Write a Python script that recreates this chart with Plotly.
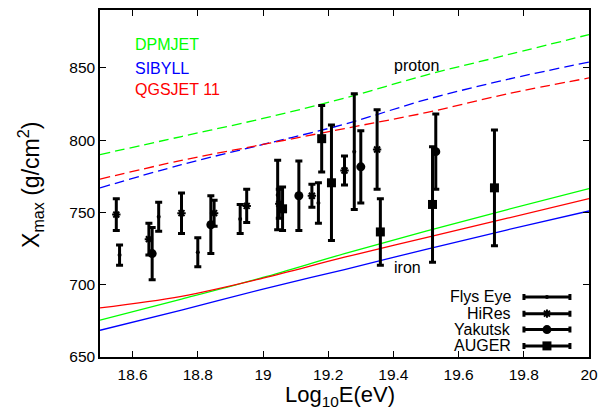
import plotly.graph_objects as go

# ---------------- data ----------------
E_model = [18.5, 18.75, 19.0, 19.25, 19.5, 19.75, 20.0]
dpmjet_proton = [790, 802.5, 815, 829, 845, 859, 873]
sibyll_proton = [767, 783, 797, 811, 828, 842, 854]
qgsjet_proton = [773, 786, 797, 808, 819, 832, 843]
dpmjet_iron = [675.5, 690, 705, 721.5, 737, 752, 766.5]
sibyll_iron = [668.5, 682.5, 697, 710.5, 724.5, 738, 751]
qgsjet_iron = [684, 692, 704.5, 719, 732.5, 746, 759.5]

flys_E = [18.56, 18.68, 18.80, 18.93, 19.045, 19.17, 19.28]
flys_X = [720.5, 747, 722.5, 745.5, 762, 756.5, 792]
flys_err = [7, 10, 10, 10, 24, 14, 40]

hires_E = [18.55, 18.65, 18.75, 18.85, 18.95, 19.05, 19.15, 19.25, 19.35]
hires_X = [748.5, 731.5, 749.5, 749.5, 754.5, 756, 761.5, 779, 793.5]
hires_err = [11, 11, 14, 9, 11.5, 10, 8, 10, 27.5]

yak_E = [18.66, 18.84, 19.11, 19.30, 19.53]
yak_X = [721.5, 741.5, 761.5, 781.5, 792]
yak_err = [18, 20, 24, 25, 26]

auger_E = [19.06, 19.18, 19.21, 19.36, 19.52, 19.71]
auger_X = [752.5, 801, 770.5, 736.5, 755.5, 767]
auger_err = [15, 23, 40, 23, 40, 40]

x_ticks = [18.6, 18.8, 19.0, 19.2, 19.4, 19.6, 19.8, 20.0]
x_tick_text = ["18.6", "18.8", "19", "19.2", "19.4", "19.6", "19.8", "20"]
y_ticks = [650, 700, 750, 800, 850]

GREEN, BLUE, RED = "#00ff00", "#0000ff", "#ff0000"
FONT = "Liberation Sans, Arial, sans-serif"

fig = go.Figure()

# model curves
for ys, col in [(dpmjet_proton, GREEN), (sibyll_proton, BLUE), (qgsjet_proton, RED)]:
    fig.add_trace(go.Scatter(x=E_model, y=ys, mode="lines", line=dict(color=col, width=1.3, dash="10px,5px"),
                             line_shape="spline", hoverinfo="skip", showlegend=False))
for ys, col in [(dpmjet_iron, GREEN), (sibyll_iron, BLUE), (qgsjet_iron, RED)]:
    fig.add_trace(go.Scatter(x=E_model, y=ys, mode="lines", line=dict(color=col, width=1.3),
                             line_shape="spline", hoverinfo="skip", showlegend=False))

# experiments
exps = [
    ("Flys Eye", flys_E, flys_X, flys_err, dict(symbol="circle", size=4, color="black")),
    ("HiRes", hires_E, hires_X, hires_err, dict(symbol="asterisk-open", size=7, color="black", line=dict(color="black", width=2))),
    ("Yakutsk", yak_E, yak_X, yak_err, dict(symbol="circle", size=9, color="black")),
    ("AUGER", auger_E, auger_X, auger_err, dict(symbol="square", size=9, color="black")),
]
for name, ex, ey, ee, mk in exps:
    fig.add_trace(go.Scatter(x=ex, y=ey, mode="markers", marker=mk, name=name, showlegend=False,
                             error_y=dict(type="data", array=ee, visible=True, color="black", thickness=3, width=3.5)))

# legend samples (on an overlay axis in fractional units)
leg_y = [0.173, 0.125, 0.079, 0.032]
for (name, ex, ey, ee, mk), ly in zip(exps, leg_y):
    fig.add_trace(go.Scatter(x=[0.914], y=[ly], mode="markers", marker=mk, xaxis="x2", yaxis="y2",
                             showlegend=False, hoverinfo="skip",
                             error_x=dict(type="constant", value=0.047, visible=True, color="black", thickness=3, width=3)))

ann = []
for (name, *_), ly in zip(exps, leg_y):
    ann.append(dict(x=0.845, y=ly, xref="paper", yref="paper", text=name, showarrow=False,
                    xanchor="right", yanchor="middle", font=dict(size=16, color="black", family=FONT)))
for txt, col, py in [("DPMJET", GREEN, 43), ("SIBYLL", BLUE, 66.7), ("QGSJET 11", RED, 88)]:
    ann.append(dict(x=(133 - 100) / 489, y=(357 - py) / 349, xref="paper", yref="paper", text=txt, showarrow=False,
                    xanchor="left", yanchor="middle", font=dict(size=16, color=col, family=FONT)))
ann.append(dict(x=19.47, y=851.5, text="proton", showarrow=False, font=dict(size=16, color="black", family=FONT)))
ann.append(dict(x=19.443, y=712, text="iron", showarrow=False, font=dict(size=16, color="black", family=FONT)))
ann.append(dict(x=-0.143, y=0.496, xref="paper", yref="paper", text="X<sub>max</sub> (g/cm<sup>2</sup>)",
                textangle=-90, showarrow=False, xanchor="center", yanchor="middle",
                font=dict(size=23, color="black", family=FONT)))
ann.append(dict(x=0.49, y=-0.112, xref="paper", yref="paper", text="Log<sub>10</sub>E(eV)",
                showarrow=False, xanchor="center", yanchor="middle",
                font=dict(size=22, color="black", family=FONT)))

axis_common = dict(showgrid=False, zeroline=False, showline=True, linecolor="black", linewidth=1.5,
                   mirror="ticks", ticks="inside", ticklen=6, tickcolor="black", tickwidth=1,
                   tickfont=dict(size=15.5, color="black", family=FONT))
fig.update_layout(
    width=613, height=414, margin=dict(l=100, r=24, t=8, b=57),
    paper_bgcolor="white", plot_bgcolor="white", showlegend=False,
    xaxis=dict(range=[18.5, 20], tickvals=x_ticks, ticktext=x_tick_text, ticklabelstandoff=3, **axis_common),
    yaxis=dict(range=[650, 890], tickvals=y_ticks, **axis_common),
    xaxis2=dict(range=[0, 1], overlaying="x", showticklabels=False, showgrid=False, zeroline=False,
                showline=False, ticks="", fixedrange=True),
    yaxis2=dict(range=[0, 1], overlaying="y", showticklabels=False, showgrid=False, zeroline=False,
                showline=False, ticks="", fixedrange=True),
    annotations=ann,
)
fig.write_html("out.html")
